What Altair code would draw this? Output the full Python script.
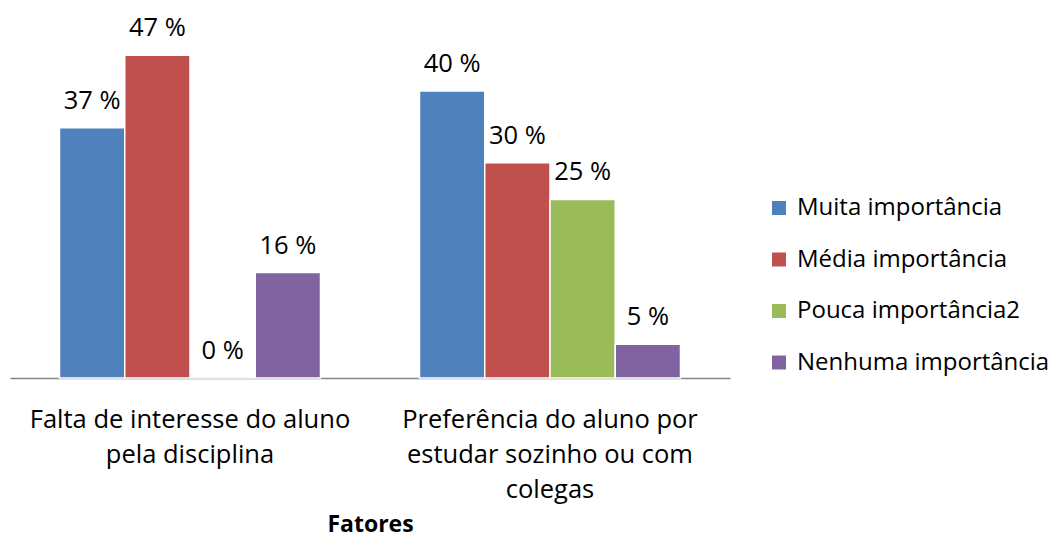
import altair as alt
import pandas as pd

categorias = [
    "Falta de interesse do aluno|pela disciplina",
    "Preferência do aluno por|estudar sozinho ou com|colegas",
]
series = ["Muita importância", "Média importância", "Pouca importância2", "Nenhuma importância"]
cores = ["#4F81BD", "#C0504D", "#9BBB59", "#8064A2"]
# bar heights (percent units)
valores_falta = [34.9, 45.0, 0.0, 14.7]
valores_pref = [40.0, 30.0, 24.9, 4.7]
rotulos_falta = ["37 %", "47 %", "0 %", "16 %"]
rotulos_pref = ["40 %", "30 %", "25 %", "5 %"]

rows = []
for s, v, r in zip(series, valores_falta, rotulos_falta):
    rows.append({"cat": categorias[0], "serie": s, "valor": v, "rotulo": r})
for s, v, r in zip(series, valores_pref, rotulos_pref):
    rows.append({"cat": categorias[1], "serie": s, "valor": v, "rotulo": r})
df = pd.DataFrame(rows)

FONT = "Open Sans"
FS = 25.5

x = alt.X(
    "cat:N",
    sort=categorias,
    scale=alt.Scale(paddingInner=0.275, paddingOuter=0.1375),
    axis=alt.Axis(
        title="Fatores",
        labelExpr="split(datum.label, '|')",
        labelAngle=0,
        labelFontSize=FS,
        labelFont=FONT,
        labelColor="#000000",
        labelLineHeight=35,
        labelPadding=29,
        labelLimit=400,
        ticks=False,
        domainColor="#868686",
        domainWidth=1.5,
        titleFont=FONT,
        titleFontSize=23,
        titleFontWeight="bold",
        titleColor="#000000",
        titlePadding=11,
    ),
)
xo = alt.XOffset("serie:N", sort=series, scale=alt.Scale(paddingInner=0, paddingOuter=0))
y = alt.Y("valor:Q", scale=alt.Scale(domain=[0, 52]), axis=None)

bars = alt.Chart(df).mark_bar(stroke="white", strokeWidth=1.5).encode(
    x=x,
    xOffset=xo,
    y=y,
    color=alt.Color(
        "serie:N",
        sort=series,
        scale=alt.Scale(domain=series, range=cores),
        legend=alt.Legend(
            title=None,
            orient="none",
            legendX=757,
            legendY=191,
            symbolType="square",
            symbolSize=196,
            symbolStrokeWidth=0,
            labelFont=FONT,
            labelFontSize=24,
            labelColor="#000000",
            rowPadding=27.5,
            labelOffset=6,
            labelLimit=400,
        ),
    ),
)

labels = alt.Chart(df).mark_text(
    baseline="middle", align="center", dy=-27, font=FONT, fontSize=FS, color="#000000"
).encode(x=x, xOffset=xo, y=y, text="rotulo:N")

chart = (
    alt.layer(bars, labels)
    .properties(width=720, height=373)
    .configure(autosize=alt.AutoSizeParams(type="none"), padding={"left": 10, "top": 5, "right": 331, "bottom": 164})
    .configure_view(stroke=None)
)

chart.save("out.html", embed_options={"renderer": "svg", "actions": False})
